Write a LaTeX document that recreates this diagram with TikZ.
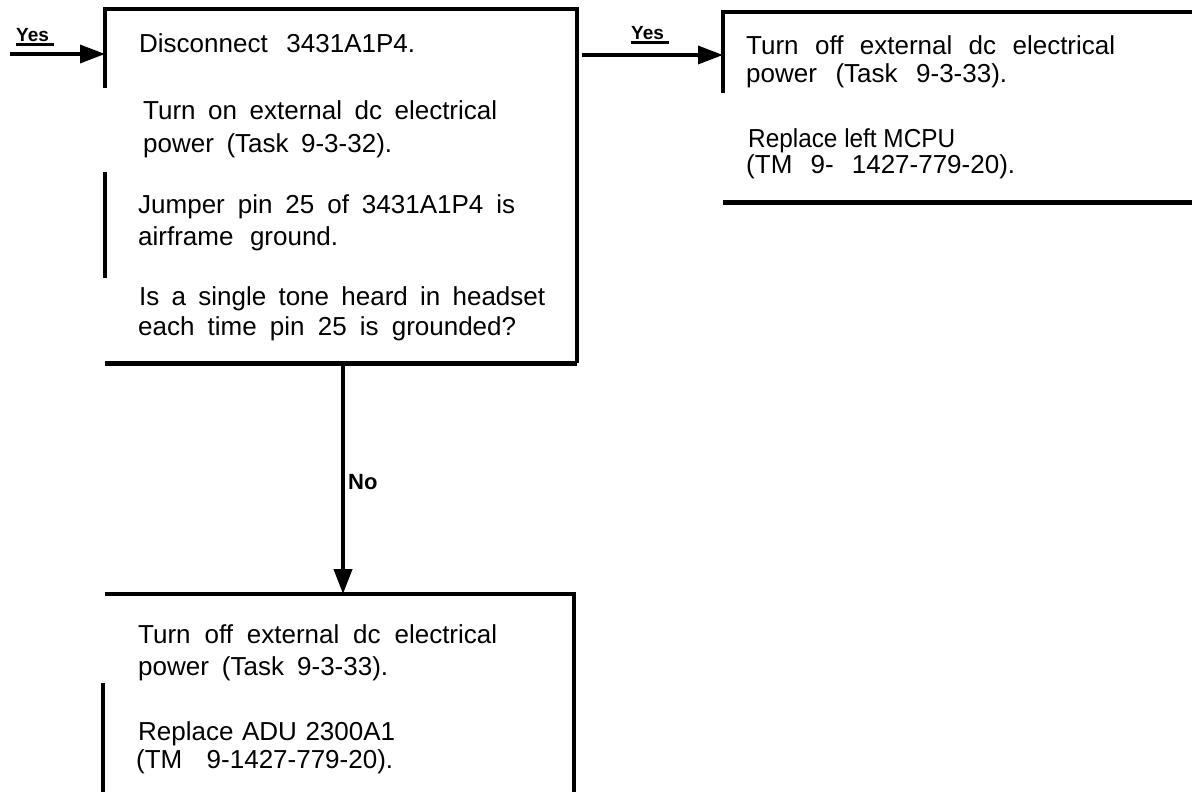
\documentclass[tikz,border=0pt]{standalone}
\usepackage{fontspec}
\setmainfont{Liberation Sans}
\usetikzlibrary{arrows.meta}
\newcommand\fitln[2]{\setbox0=\hbox{#2}\ifdim\wd0<#1\relax\makebox[#1][s]{#2}\else\resizebox{#1}{\height}{#2}\fi}
\begin{document}
\begin{tikzpicture}[x=1pt,y=-1pt,
  area/.style={rectangle, inner sep=0pt, outer sep=0pt, draw=none},
  edge/.style={line width=4.5pt, line join=miter},
  thickedge/.style={line width=5pt},
  txt/.style={anchor=base west, inner sep=0pt, font=\fontsize{26}{30}\selectfont},
  lbl/.style={anchor=base west, inner sep=0pt, font=\fontsize{19}{22}\selectfont\bfseries},
  arr/.style={line width=3.5pt, -{Triangle[length=25pt,width=18pt]}},
  ul/.style={line width=3pt}]
\useasboundingbox (0,0) rectangle (1192,792);

% box areas
\node[area, minimum width=472pt, minimum height=354pt] (b1) at (341,186) {};
\node[area, minimum width=469pt, minimum height=190pt] (b2) at (957.5,107) {};
\node[area, minimum width=469pt, minimum height=198pt] (b3) at (339.5,693) {};

% box 1 borders
\draw[edge] ([yshift=-79pt]b1.north west) -- (b1.north west) -- (b1.north east) -- (b1.south east);
\draw[thickedge] (b1.south west) -- (b1.south east);
\draw[edge] ([yshift=-163pt]b1.north west) -- ([yshift=-269pt]b1.north west);

% box 2 borders
\draw[edge] ([yshift=-81pt]b2.north west) -- (b2.north west) -- (b2.north east);
\draw[thickedge] (b2.south west) -- (b2.south east);

% box 3 borders
\draw[edge] (b3.north west) -- (b3.north east) -- (b3.south east);
\draw[edge] ([yshift=-89pt,xshift=-2pt]b3.north west) -- ([xshift=-2pt]b3.south west);

% box 1 text
\node[txt] (t11) at (139,53) {\fitln{276pt}{Disconnect 3431A1P4.}};
\node[txt] (t12) at (143,120) {\fitln{354pt}{Turn on external dc electrical}};
\node[txt] (t13) at (143,152) {\fitln{249pt}{power (Task 9-3-32).}};
\node[txt] (t14) at (138,213) {\fitln{377pt}{Jumper pin 25 of 3431A1P4 is}};
\node[txt] (t15) at (138,245) {\fitln{200pt}{airframe ground.}};
\node[txt] (t16) at (139,305) {\fitln{406pt}{Is a single tone heard in headset}};
\node[txt] (t17) at (138,335) {\fitln{378pt}{each time pin 25 is grounded?}};

% box 2 text
\node[txt] (t21) at (746,55) {\fitln{369pt}{Turn off external dc electrical}};
\node[txt] (t22) at (746,83) {\fitln{261pt}{power (Task 9-3-33).}};
\node[txt] (t23) at (748,147) {\fitln{207pt}{Replace left MCPU}};
\node[txt] (t24) at (746,173) {\fitln{269pt}{(TM 9- 1427-779-20).}};

% box 3 text
\node[txt] (t31) at (138,643) {\fitln{359pt}{Turn off external dc electrical}};
\node[txt] (t32) at (138,675) {\fitln{250pt}{power (Task 9-3-33).}};
\node[txt] (t33) at (138,740) {\fitln{257pt}{Replace ADU 2300A1}};
\node[txt] (t34) at (136,768) {\fitln{257pt}{(TM 9-1427-779-20).}};

% connectors
\coordinate (s1) at (10,54);
\draw[arr] (s1) -- (s1 -| b1.west);
\node[lbl] (yes1) at (16,42) {\fitln{38pt}{Yes}};
\draw[ul] ([yshift=-3pt]yes1.base west) -- ([yshift=-3pt]yes1.base east);

\coordinate (s2) at (582,55);
\draw[arr] (s2) -- (s2 -| b2.west);
\node[lbl] (yes2) at (631,40) {\fitln{38pt}{Yes}};
\draw[ul] ([yshift=-3pt]yes2.base west) -- ([yshift=-3pt]yes2.base east);

\coordinate (nx) at (343,0);
\draw[arr, line width=4pt] (nx |- b1.south) -- (nx |- b3.north);
\node[lbl, font=\fontsize{22}{26}\selectfont\bfseries] (no) at (348,489) {\fitln{31pt}{No}};
\end{tikzpicture}
\end{document}
